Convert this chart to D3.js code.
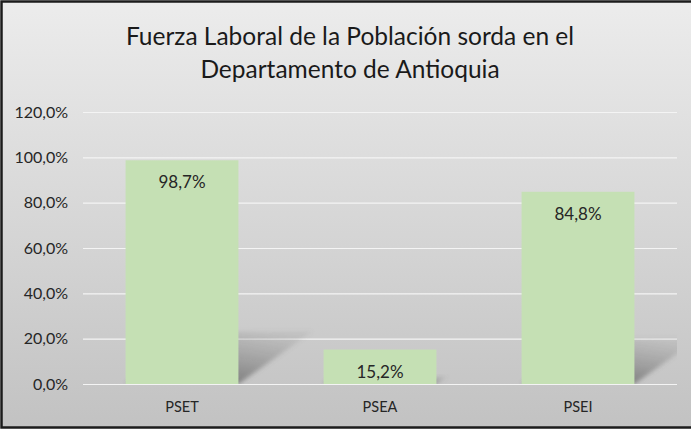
<!DOCTYPE html>
<html>
<head>
<meta charset="utf-8">
<script src="https://cdn.jsdelivr.net/npm/d3@7/dist/d3.min.js"></script>
<style>
    body { margin: 0; background: #fff; }
    svg { display: block; font-family: Lato, "Open Sans", sans-serif; }
</style>
</head>
<body>
<div class="chart-container"></div>
<script>
const categories = ["PSET", "PSEA", "PSEI"];
const values = [0.987, 0.152, 0.848];
const yTicks = [0, 0.2, 0.4, 0.6, 0.8, 1.0, 1.2];
const titleLines = ["Fuerza Laboral de la Población sorda en el", "Departamento de Antioquia"];

const width = 691, height = 430;
const margin = {top: 112, right: 14, bottom: 46, left: 83};

const locale = d3.formatLocale({decimal: ",", thousands: ".", grouping: [3], currency: ["", ""]});
const pct = locale.format(".1%");

const svg = d3.select(".chart-container").append("svg")
    .attr("width", width)
    .attr("height", height);

const defs = svg.append("defs");

const bg = defs.append("linearGradient").attr("id", "bg")
    .attr("x1", 0).attr("y1", 0).attr("x2", 0).attr("y2", 1);
bg.append("stop").attr("offset", "0%").attr("stop-color", "#ececec");
bg.append("stop").attr("offset", "100%").attr("stop-color", "#c2c2c2");

const sh = defs.append("linearGradient").attr("id", "shadow")
    .attr("x1", 0.35).attr("y1", 1).attr("x2", 0.9).attr("y2", 0.1);
sh.append("stop").attr("offset", "0%").attr("stop-color", "#4a4a4a").attr("stop-opacity", 0.65);
sh.append("stop").attr("offset", "100%").attr("stop-color", "#707070").attr("stop-opacity", 0.12);

defs.append("filter").attr("id", "blur")
    .attr("x", -0.2).attr("y", -0.2).attr("width", 1.4).attr("height", 1.4)
    .append("feGaussianBlur").attr("stdDeviation", 2);

// chart background and frame
svg.append("rect")
    .attr("x", 1.5).attr("y", 1.5)
    .attr("width", width + 10).attr("height", height - 4)
    .attr("fill", "url(#bg)")
    .attr("stroke", "#1b1b1b")
    .attr("stroke-width", 2.5);

const innerW = width - margin.left - margin.right;
const innerH = height - margin.top - margin.bottom;

defs.append("clipPath").attr("id", "plotClip")
    .append("rect").attr("x", 0).attr("y", -5).attr("width", innerW).attr("height", innerH + 5);

const x = d3.scaleBand().domain(categories).range([0, innerW]).paddingInner(0.43).paddingOuter(0.215);
const y = d3.scaleLinear().domain([0, 1.2]).range([innerH, 0]);

const g = svg.append("g").attr("transform", `translate(${margin.left},${margin.top})`);

// gridlines + y labels
const yAxis = g.append("g")
    .call(d3.axisLeft(y).tickValues(yTicks).tickFormat(pct).tickSize(-innerW).tickPadding(15));
yAxis.select(".domain").remove();
yAxis.selectAll(".tick line").attr("stroke", "#f4f4f4").attr("stroke-width", 1.2);
yAxis.selectAll(".tick text")
    .attr("fill", "#262626")
    .style("font-size", "16px")
    .style("font-family", "Lato, sans-serif");

// perspective shadows
const shadowG = g.append("g").attr("clip-path", "url(#plotClip)");
shadowG.selectAll("polygon")
    .data(values)
    .enter().append("polygon")
    .attr("points", (d, i) => {
        const x0 = x(categories[i]), x1 = x0 + x.bandwidth();
        const h = innerH - y(d);
        const dx = h * 0.33, dy = h * 0.235;
        return [[x0, innerH], [x1, innerH], [x1 + dx, innerH - dy], [x0 + dx, innerH - dy]].join(" ");
    })
    .attr("fill", "url(#shadow)")
    .attr("filter", "url(#blur)");

// bars
g.selectAll(".bar")
    .data(values)
    .enter().append("rect")
    .attr("class", "bar")
    .attr("x", (d, i) => x(categories[i]))
    .attr("y", d => y(d))
    .attr("width", x.bandwidth())
    .attr("height", d => innerH - y(d))
    .attr("fill", "#c5e0b4");

// value labels
g.selectAll(".value")
    .data(values)
    .enter().append("text")
    .attr("class", "value")
    .attr("x", (d, i) => x(categories[i]) + x.bandwidth() / 2)
    .attr("y", d => y(d) + 28)
    .attr("text-anchor", "middle")
    .attr("fill", "#262626")
    .style("font-size", "17px")
    .text(d => pct(d));

// x labels
g.selectAll(".cat")
    .data(categories)
    .enter().append("text")
    .attr("class", "cat")
    .attr("x", d => x(d) + x.bandwidth() / 2)
    .attr("y", innerH + 28)
    .attr("text-anchor", "middle")
    .attr("fill", "#262626")
    .style("font-size", "14.5px")
    .text(d => d);

// title
svg.append("g").selectAll("text")
    .data(titleLines)
    .enter().append("text")
    .attr("x", 350)
    .attr("y", (d, i) => 45 + i * 33)
    .attr("text-anchor", "middle")
    .attr("fill", "#1a1a1a")
    .style("font-size", "24.5px")
    .text(d => d);
</script>
</body>
</html>
